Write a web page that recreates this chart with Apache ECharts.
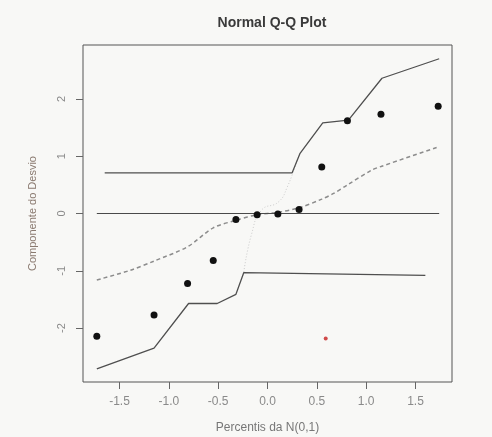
<!DOCTYPE html>
<html>
<head>
<meta charset="utf-8">
<title>Normal Q-Q Plot</title>
<script src="https://cdn.jsdelivr.net/npm/echarts@6/dist/echarts.min.js"></script>
<style>
  html, body { margin: 0; padding: 0; background: #f8f8f6; }
  #chart { width: 492px; height: 437px; }
</style>
</head>
<body>
<div id="chart"></div>
<script>
// Theoretical normal quantiles (n = 12) and the ordered deviance components
const quantiles = [-1.73, -1.15, -0.81, -0.55, -0.32, -0.105, 0.105, 0.32, 0.55, 0.81, 1.15, 1.73];
const residuals = [-2.14, -1.77, -1.22, -0.82, -0.105, -0.02, -0.01, 0.07, 0.81, 1.62, 1.73, 1.87];

// Simulated envelope: median (dashed)
const medianX = [-1.73, -1.39, -1.15, -0.81, -0.55, -0.32, -0.105, 0.105, 0.32, 0.55, 0.67, 0.81, 1.06, 1.15, 1.73];
const medianY = [-1.16, -0.99, -0.83, -0.58, -0.25, -0.12, -0.02, 0.02, 0.10, 0.25, 0.35, 0.50, 0.76, 0.82, 1.16];

// Upper envelope
const upperX = [-1.65, 0.25, 0.33, 0.56, 0.82, 1.16, 1.74];
const upperY = [0.71, 0.71, 1.05, 1.58, 1.63, 2.36, 2.70];

// Lower envelope
const lowerX = [-1.73, -1.15, -0.80, -0.51, -0.32, -0.24, 1.60];
const lowerY = [-2.71, -2.35, -1.57, -1.57, -1.41, -1.03, -1.08];

// Reference line at zero
const zeroX = [-1.73, 1.74];
const zeroY = [0, 0];

// Faint dotted connector through the centre
const connX = [-0.24, -0.16, -0.06, 0.11, 0.20, 0.30];
const connY = [-1.02, -0.35, 0.06, 0.20, 0.46, 0.93];

// Small red mark
const markX = [0.59];
const markY = [-2.18];

// Axis ticks
const xTicks = [-1.5, -1.0, -0.5, 0.0, 0.5, 1.0, 1.5];
const yTicks = [-2, -1, 0, 1, 2];

const zip = (xs, ys) => xs.map((x, i) => [x, ys[i]]);

const FONT = 'Liberation Sans, Arial, sans-serif';
const chart = echarts.init(document.getElementById('chart'));

chart.setOption({
  backgroundColor: '#f8f8f6',
  animation: false,
  title: {
    text: 'Normal Q-Q Plot',
    left: 267,
    textAlign: 'center',
    top: 11,
    textStyle: { fontFamily: FONT, fontSize: 14, fontWeight: 'bold', color: '#3a3a3a' }
  },
  grid: {
    left: 83, right: 40, top: 45, bottom: 55,
    show: true, borderColor: '#555', borderWidth: 1,
    backgroundColor: 'transparent',
    containLabel: false,
    outerBoundsMode: 'none'
  },
  xAxis: {
    type: 'value',
    min: -1.87, max: 1.87,
    name: 'Percentis da N(0,1)',
    nameLocation: 'middle',
    nameGap: 40,
    nameTextStyle: { fontFamily: FONT, fontSize: 12, color: '#777' },
    axisLine: { show: false, onZero: false },
    axisTick: { show: true, length: 7, customValues: xTicks, lineStyle: { color: '#666' } },
    axisLabel: {
      customValues: xTicks, margin: 14,
      fontFamily: FONT, fontSize: 12, color: '#8a8a8a',
      formatter: v => v.toFixed(1)
    },
    splitLine: { show: false }
  },
  yAxis: {
    type: 'value',
    min: -2.94, max: 2.94,
    name: 'Componente do Desvio',
    nameLocation: 'middle',
    nameGap: 45,
    nameTextStyle: { fontFamily: FONT, fontSize: 11, color: '#8a7a70' },
    axisLine: { show: false, onZero: false },
    axisTick: { show: true, length: 7, customValues: yTicks, lineStyle: { color: '#666' } },
    axisLabel: {
      customValues: yTicks, margin: 16, rotate: 90,
      fontFamily: FONT, fontSize: 11, color: '#8a8a8a'
    },
    splitLine: { show: false }
  },
  series: [
    {
      type: 'line', data: zip(connX, connY), symbol: 'none', smooth: true,
      lineStyle: { color: '#cccccc', width: 1, type: [1, 2] }, z: 1
    },
    {
      type: 'line', data: zip(medianX, medianY), symbol: 'none', smooth: 0.3,
      lineStyle: { color: '#8c8c8c', width: 1.5, type: [4, 3] }, z: 2
    },
    {
      type: 'line', data: zip(zeroX, zeroY), symbol: 'none',
      lineStyle: { color: '#4a4a4a', width: 1.2 }, z: 3
    },
    {
      type: 'line', data: zip(upperX, upperY), symbol: 'none',
      lineStyle: { color: '#4f4f4f', width: 1.3 }, z: 3
    },
    {
      type: 'line', data: zip(lowerX, lowerY), symbol: 'none',
      lineStyle: { color: '#4f4f4f', width: 1.3 }, z: 3
    },
    {
      type: 'scatter', data: zip(quantiles, residuals), symbol: 'circle', symbolSize: 7,
      itemStyle: { color: '#111', opacity: 1 }, z: 5
    },
    {
      type: 'scatter', data: zip(markX, markY), symbol: 'circle', symbolSize: 4,
      itemStyle: { color: '#d04a4a', opacity: 1 }, z: 5
    }
  ]
});
</script>
</body>
</html>
